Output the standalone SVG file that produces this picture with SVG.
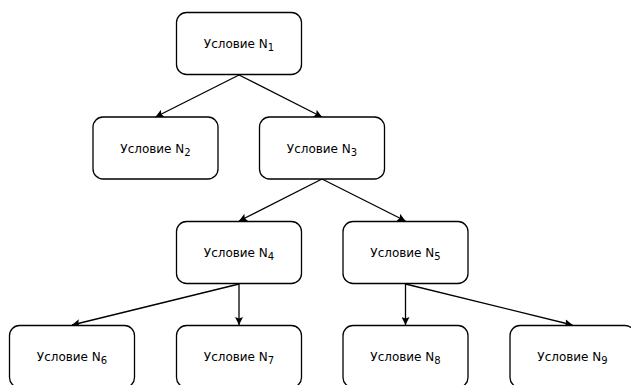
<svg xmlns="http://www.w3.org/2000/svg" width="631" height="385" viewBox="0 0 631 385">
<style>
.box{fill:#fff;stroke:#000;stroke-width:1.3}
.lbl{font-family:"DejaVu Sans",Verdana,sans-serif;font-size:12px;fill:#000;text-anchor:middle}
.sub{font-size:10px}
.edge{stroke:#000;stroke-width:1.3;fill:none;marker-end:url(#arr)}
</style>
<defs>
<marker id="arr" viewBox="0 0 10 10" refX="10" refY="5" markerWidth="8" markerHeight="8" markerUnits="userSpaceOnUse" orient="auto">
<path d="M0,0 L10,5 L0,10 L2,5 Z" fill="#000"/>
</marker>
</defs>
<rect width="631" height="385" fill="#fff"/>
<g id="connectors">
<line class="edge" x1="239" y1="75" x2="155.5" y2="117"/>
<line class="edge" x1="239" y1="75" x2="322" y2="117"/>
<line class="edge" x1="322" y1="179" x2="239" y2="221"/>
<line class="edge" x1="322" y1="179" x2="405.5" y2="221"/>
<line class="edge" x1="239" y1="284" x2="72" y2="325"/>
<line class="edge" x1="239" y1="284" x2="239" y2="325"/>
<line class="edge" x1="405.5" y1="284" x2="405.5" y2="325"/>
<line class="edge" x1="405.5" y1="284" x2="572.5" y2="325"/>
</g>
<g id="n1"><rect class="box" x="176.5" y="12.5" width="125" height="62" rx="10"/><text class="lbl" x="239" y="48">Условие N<tspan class="sub" dy="3">1</tspan></text></g>
<g id="n2"><rect class="box" x="93" y="117" width="125" height="62" rx="10"/><text class="lbl" x="155.5" y="152.5">Условие N<tspan class="sub" dy="3">2</tspan></text></g>
<g id="n3"><rect class="box" x="259.5" y="117" width="125" height="62" rx="10"/><text class="lbl" x="322" y="152.5">Условие N<tspan class="sub" dy="3">3</tspan></text></g>
<g id="n4"><rect class="box" x="176.5" y="221.5" width="125" height="62" rx="10"/><text class="lbl" x="239" y="257">Условие N<tspan class="sub" dy="3">4</tspan></text></g>
<g id="n5"><rect class="box" x="343" y="221.5" width="125" height="62" rx="10"/><text class="lbl" x="405.5" y="257">Условие N<tspan class="sub" dy="3">5</tspan></text></g>
<g id="n6"><rect class="box" x="9.5" y="325.5" width="125" height="62" rx="10"/><text class="lbl" x="72" y="361">Условие N<tspan class="sub" dy="3">6</tspan></text></g>
<g id="n7"><rect class="box" x="176.5" y="325.5" width="125" height="62" rx="10"/><text class="lbl" x="239" y="361">Условие N<tspan class="sub" dy="3">7</tspan></text></g>
<g id="n8"><rect class="box" x="343" y="325.5" width="125" height="62" rx="10"/><text class="lbl" x="405.5" y="361">Условие N<tspan class="sub" dy="3">8</tspan></text></g>
<g id="n9"><rect class="box" x="510" y="325.5" width="125" height="62" rx="10"/><text class="lbl" x="572.5" y="361">Условие N<tspan class="sub" dy="3">9</tspan></text></g>
</svg>
